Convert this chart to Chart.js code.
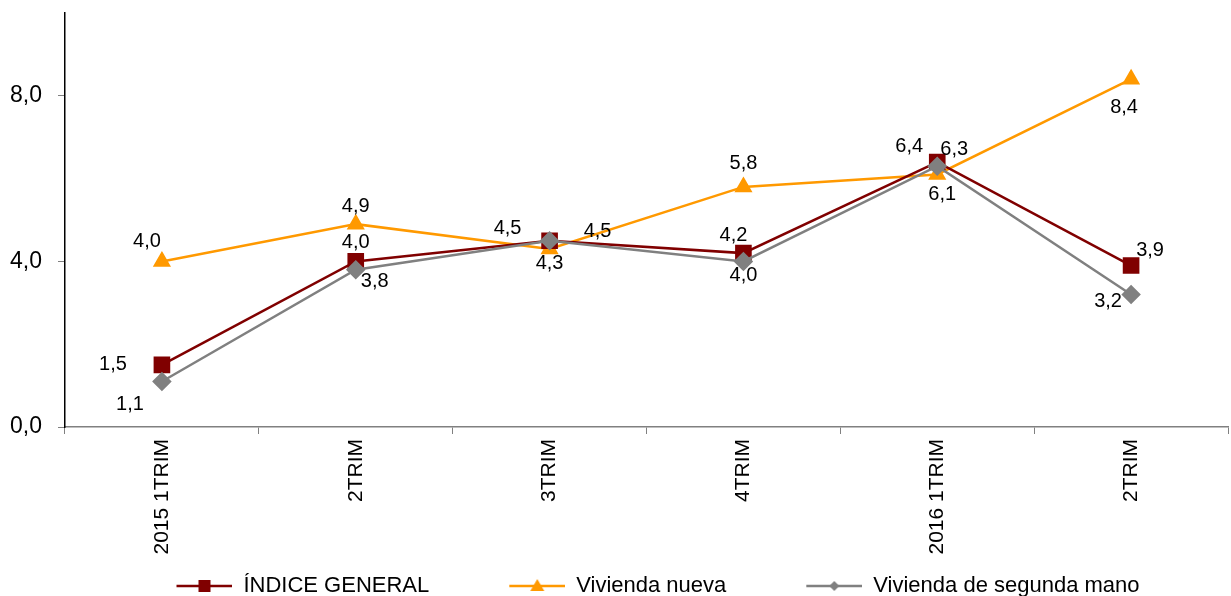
<!DOCTYPE html>
<html>
<head>
<meta charset="utf-8">
<script src="https://cdn.jsdelivr.net/npm/chart.js@4.4.1/dist/chart.umd.min.js"></script>
<style>
  html, body { margin: 0; padding: 0; background: #fff; }
</style>
</head>
<body>
<canvas id="precioChart" width="1231" height="596"></canvas>
<script>
const trimestres = ['2015 1TRIM', '2TRIM', '3TRIM', '4TRIM', '2016 1TRIM', '2TRIM'];
const indiceGeneral = [1.5, 4.0, 4.5, 4.2, 6.4, 3.9];
const viviendaNueva = [4.0, 4.9, 4.3, 5.8, 6.1, 8.4];
const viviendaSegunda = [1.1, 3.8, 4.5, 4.0, 6.3, 3.2];
const yTicks = [0, 4, 8];

const FONT = '"Liberation Sans", Arial, sans-serif';
const ROJO = '#800000';
const NARANJA = '#FF9900';
const GRIS = '#808080';

function fmt(v) {
    return Number(v).toFixed(1).replace('.', ',');
}

// icono de leyenda: hueco a la izquierda (separacion) + linea con marcador
function legendIcon(color, shape) {
    const c = document.createElement('canvas');
    c.width = 134;
    c.height = 22;
    const ctx = c.getContext('2d');
    ctx.strokeStyle = color;
    ctx.lineWidth = 2.5;
    ctx.beginPath();
    ctx.moveTo(78, 11);
    ctx.lineTo(134, 11);
    ctx.stroke();
    const cx = 106, cy = 11;
    ctx.fillStyle = color;
    ctx.beginPath();
    if (shape === 'rect') {
        ctx.rect(cx - 6, cy - 6, 12, 12);
    } else if (shape === 'triangle') {
        ctx.moveTo(cx, cy - 7);
        ctx.lineTo(cx + 7, cy + 5);
        ctx.lineTo(cx - 7, cy + 5);
        ctx.closePath();
    } else {
        ctx.moveTo(cx, cy - 5);
        ctx.lineTo(cx + 5, cy);
        ctx.lineTo(cx, cy + 5);
        ctx.lineTo(cx - 5, cy);
        ctx.closePath();
    }
    ctx.fill();
    return c;
}

// etiquetas de valor junto a cada punto
const valueLabels = {
    id: 'valueLabels',
    afterDatasetsDraw(chart, args, opts) {
        const ctx = chart.ctx;
        ctx.save();
        ctx.font = '20px ' + FONT;
        ctx.fillStyle = '#000';
        ctx.textAlign = 'center';
        ctx.textBaseline = 'middle';
        chart.data.datasets.forEach(function (ds, i) {
            const offs = opts.offsets[i];
            chart.getDatasetMeta(i).data.forEach(function (pt, j) {
                ctx.fillText(fmt(ds.data[j]), pt.x + offs[j][0], pt.y + offs[j][1]);
            });
        });
        ctx.restore();
    }
};

const shapes = ['rect', 'triangle', 'diamond'];

new Chart(document.querySelector('#precioChart'), {
    type: 'line',
    data: {
        labels: trimestres,
        datasets: [{
            label: 'ÍNDICE GENERAL',
            data: indiceGeneral,
            borderColor: ROJO,
            backgroundColor: ROJO,
            pointBackgroundColor: ROJO,
            pointBorderColor: ROJO,
            pointStyle: 'rect',
            pointRadius: 10,
            borderWidth: 2.5,
            order: 1
        }, {
            label: 'Vivienda nueva',
            data: viviendaNueva,
            borderColor: NARANJA,
            backgroundColor: NARANJA,
            pointBackgroundColor: NARANJA,
            pointBorderColor: NARANJA,
            pointStyle: 'triangle',
            pointRadius: 8,
            borderWidth: 2.5,
            order: 2
        }, {
            label: 'Vivienda de segunda mano',
            data: viviendaSegunda,
            borderColor: GRIS,
            backgroundColor: GRIS,
            pointBackgroundColor: GRIS,
            pointBorderColor: GRIS,
            pointStyle: 'rectRot',
            pointRadius: 8,
            borderWidth: 2.5,
            order: 0
        }]
    },
    options: {
        responsive: false,
        animation: false,
        layout: { autoPadding: false, padding: { top: 13, right: 3, left: 10, bottom: -11 } },
        elements: { line: { tension: 0 } },
        plugins: {
            tooltip: { enabled: false },
            legend: {
                position: 'bottom',
                labels: {
                    usePointStyle: true,
                    pointStyleWidth: 134,
                    padding: 2,
                    color: '#000',
                    font: { family: FONT, size: 22 },
                    sort: function (a, b) { return a.datasetIndex - b.datasetIndex; },
                    generateLabels: function (chart) {
                        const items = Chart.defaults.plugins.legend.labels.generateLabels(chart);
                        items.forEach(function (it) {
                            const ds = chart.data.datasets[it.datasetIndex];
                            it.pointStyle = legendIcon(ds.borderColor, shapes[it.datasetIndex]);
                        });
                        return items;
                    }
                }
            },
            valueLabels: {
                offsets: [
                    [[-49, 0], [0, -19], [-42, -12], [-10, -18], [-28, -16], [19, -15]],
                    [[-15, -20], [0, -18], [0, 15], [0, -23], [5, 20], [-7, 28]],
                    [[-32, 23], [19, 12], [48, -9], [0, 14], [17, -17], [-23, 7]]
                ]
            }
        },
        scales: {
            x: {
                offset: true,
                grid: { offset: true, drawOnChartArea: false, tickLength: 7, color: GRIS },
                border: { color: GRIS, width: 1.5 },
                ticks: {
                    minRotation: 90,
                    maxRotation: 90,
                    autoSkip: false,
                    padding: 5,
                    color: '#000',
                    font: { family: FONT, size: 21 }
                },
                afterFit: function (s) {
                    s.height = 146;
                    s.paddingLeft = 0;
                    s.paddingRight = 0;
                }
            },
            y: {
                min: 0,
                max: 10,
                afterBuildTicks: function (s) {
                    s.ticks = yTicks.map(function (v) { return { value: v }; });
                },
                grid: { drawOnChartArea: false, tickLength: 7, color: GRIS },
                border: { color: '#000', width: 1.5 },
                ticks: {
                    padding: 16,
                    color: '#000',
                    font: { family: FONT, size: 23 },
                    callback: function (v) { return fmt(v); }
                },
                afterFit: function (s) {
                    s.width = 55;
                    s.paddingTop = 0;
                    s.paddingBottom = 0;
                }
            }
        }
    },
    plugins: [valueLabels]
});
</script>
</body>
</html>
